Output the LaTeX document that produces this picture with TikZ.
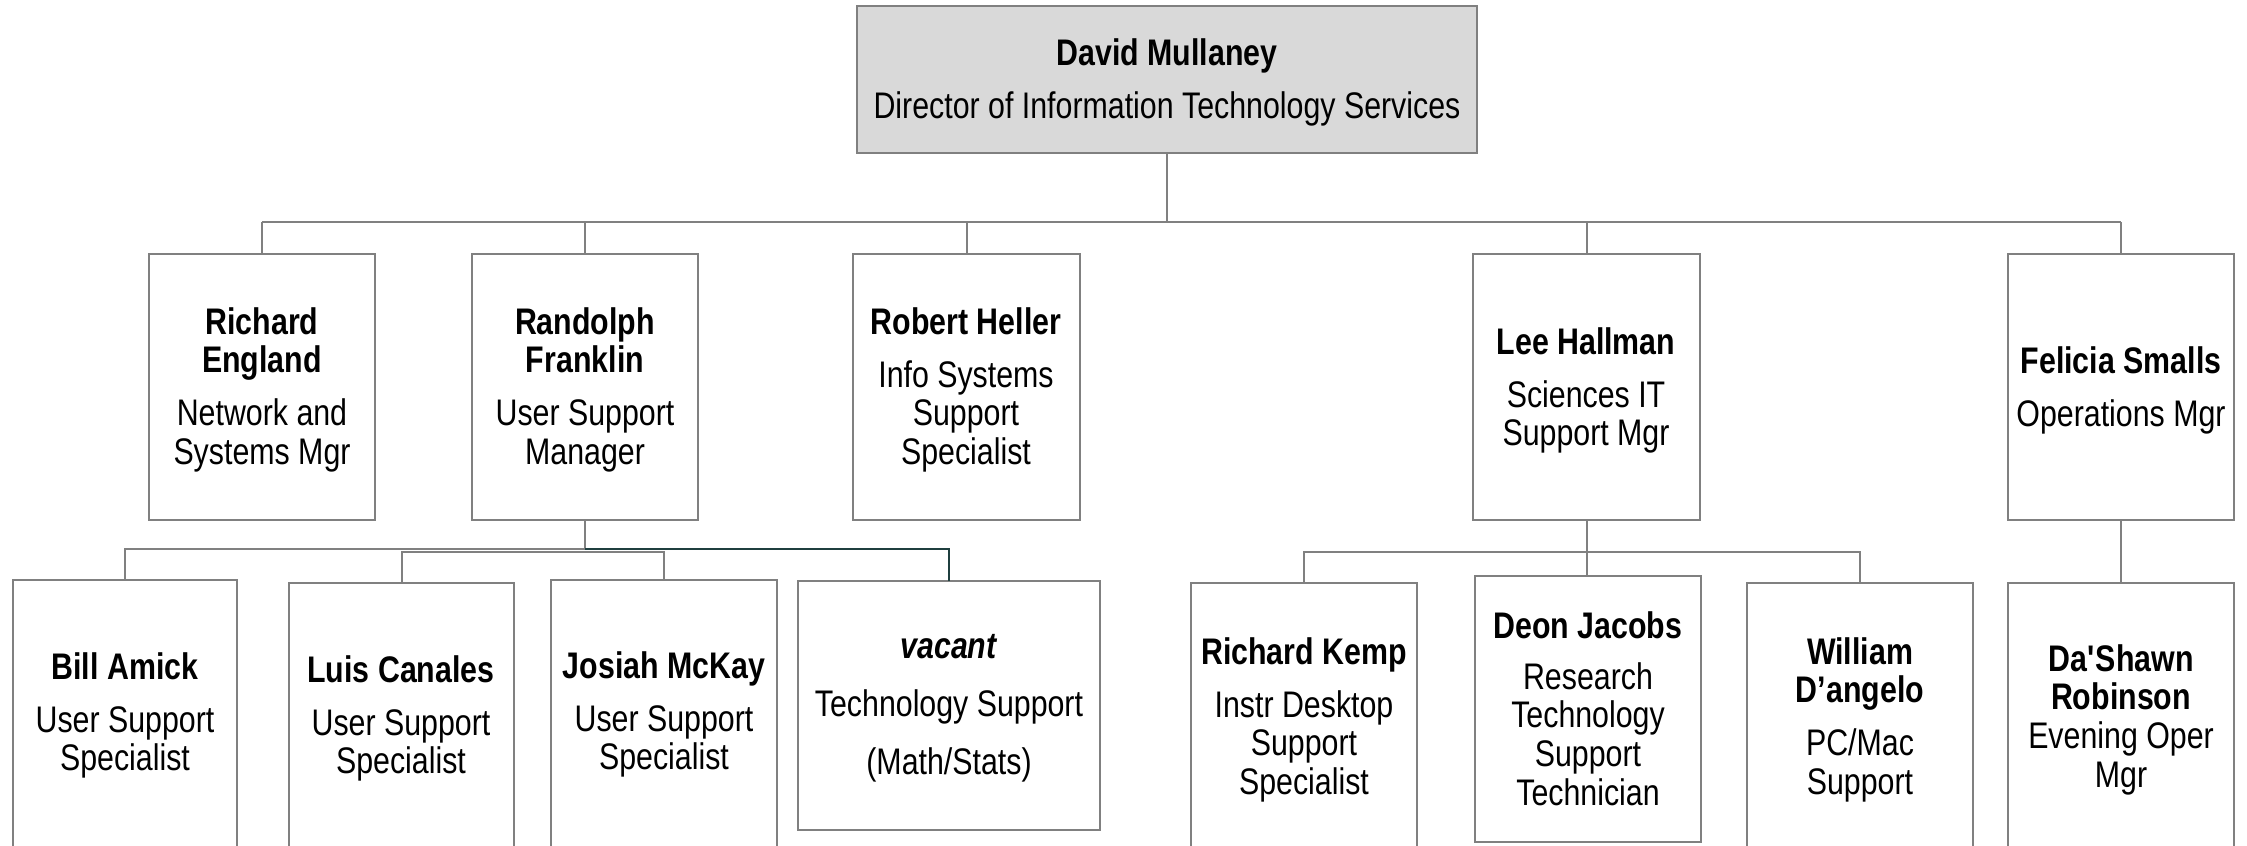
\documentclass[tikz,border=0pt]{standalone}
\usepackage{fontspec}
\setmainfont{Liberation Sans}[FakeStretch=0.82]
\definecolor{boxgray}{HTML}{808080}
\definecolor{topfill}{HTML}{D9D9D9}
\definecolor{darkline}{HTML}{1F3F3F}
\tikzset{
  box/.style={draw=boxgray, line width=2pt, fill=white, inner sep=0pt, outer sep=0pt, anchor=north west},
  txt/.style={align=center, inner sep=0pt, anchor=north, font=\fontsize{37}{38.7}\selectfont},
  link/.style={draw=boxgray, line width=2pt},
  darklink/.style={draw=darkline, line width=2pt}
}
\begin{document}
\begin{tikzpicture}[x=1pt,y=-1pt]
\useasboundingbox (0,0) rectangle (2247,846);
\clip (0,0) rectangle (2247,846);
% boxes
\node[box, fill=topfill, minimum width=620pt, minimum height=147pt] (top) at (857,6) {};
\node[box, minimum width=226pt, minimum height=266pt] (eng) at (149,254) {};
\node[box, minimum width=226pt, minimum height=266pt] (fra) at (472,254) {};
\node[box, minimum width=227pt, minimum height=266pt] (hel) at (853,254) {};
\node[box, minimum width=227pt, minimum height=266pt] (lee) at (1473,254) {};
\node[box, minimum width=226pt, minimum height=266pt] (fel) at (2008,254) {};
\node[box, minimum width=224pt, minimum height=300pt] (bill) at (13,580) {};
\node[box, minimum width=225pt, minimum height=300pt] (luis) at (289,583) {};
\node[box, minimum width=226pt, minimum height=300pt] (jos) at (551,580) {};
\node[box, minimum width=302pt, minimum height=249pt] (vac) at (798,581) {};
\node[box, minimum width=226pt, minimum height=300pt] (kemp) at (1191,583) {};
\node[box, minimum width=226pt, minimum height=266pt] (deon) at (1475,576) {};
\node[box, minimum width=226pt, minimum height=300pt] (wil) at (1747,583) {};
\node[box, minimum width=226pt, minimum height=300pt] (das) at (2008,583) {};
% texts
\node[txt] (t-top) at (1167,38) {\textbf{David Mullaney}\\[14.3pt]Director of Information Technology Services};
\node[txt] (t-eng) at (262,307) {\textbf{Richard}\\\textbf{England}\\[14.3pt]Network and\\Systems Mgr};
\node[txt] (t-fra) at (585,307) {\textbf{Randolph}\\\textbf{Franklin}\\[14.3pt]User Support\\Manager};
\node[txt] (t-hel) at (966,307) {\textbf{Robert Heller}\\[14.3pt]Info Systems\\Support\\Specialist};
\node[txt] (t-lee) at (1586,327) {\textbf{Lee Hallman}\\[14.3pt]Sciences IT\\Support Mgr};
\node[txt] (t-fel) at (2121,346) {\textbf{Felicia Smalls}\\[14.3pt]Operations Mgr};
\node[txt] (t-bill) at (125,652) {\textbf{Bill Amick}\\[14.3pt]User Support\\Specialist};
\node[txt] (t-luis) at (401,655) {\textbf{Luis Canales}\\[14.3pt]User Support\\Specialist};
\node[txt] (t-jos) at (664,651) {\textbf{Josiah McKay}\\[14.3pt]User Support\\Specialist};
\node[txt] (t-vac) at (949,634) {\textbf{\itshape vacant}\\[19.5pt]Technology Support\\[19.5pt](Math/Stats)};
\node[txt] (t-kemp) at (1304,637) {\textbf{Richard Kemp}\\[14.3pt]Instr Desktop\\Support\\Specialist};
\node[txt] (t-deon) at (1588,611) {\textbf{Deon Jacobs}\\[12.5pt]Research\\Technology\\Support\\Technician};
\node[txt] (t-wil) at (1860,637) {\textbf{William}\\\textbf{D’angelo}\\[14.3pt]PC/Mac\\Support};
\node[txt] (t-das) at (2121,644) {\textbf{Da\textquotesingle Shawn}\\\textbf{Robinson}\\Evening Oper\\Mgr};
% bus coordinates
\coordinate (b1) at (0,222);
\coordinate (b2) at (0,549);
\coordinate (b2b) at (0,552);
\coordinate (b3) at (0,552);
% top level connectors
\draw[link] (top.south) -- (top.south |- b1);
\draw[link] (eng.north |- b1) -- (fel.north |- b1);
\draw[link] (eng.north) -- (eng.north |- b1);
\draw[link] (fra.north) -- (fra.north |- b1);
\draw[link] (hel.north) -- (hel.north |- b1);
\draw[link] (lee.north) -- (lee.north |- b1);
\draw[link] (fel.north) -- (fel.north |- b1);
% Franklin group
\draw[link] (fra.south) -- (fra.south |- b2);
\draw[link] (bill.north) -- (bill.north |- b2) -- (fra.south |- b2);
\draw[link] (luis.north) -- (luis.north |- b2b) -- (jos.north |- b2b) -- (jos.north);
\draw[darklink] (fra.south |- b2) -- (vac.north |- b2) -- (vac.north);
% Hallman group
\draw[link] (lee.south) -- (lee.south |- deon.north);
\draw[link] (kemp.north) -- (kemp.north |- b3) -- (wil.north |- b3) -- (wil.north);
% Smalls group
\draw[link] (fel.south) -- (fel.south |- das.north);
\end{tikzpicture}
\end{document}
